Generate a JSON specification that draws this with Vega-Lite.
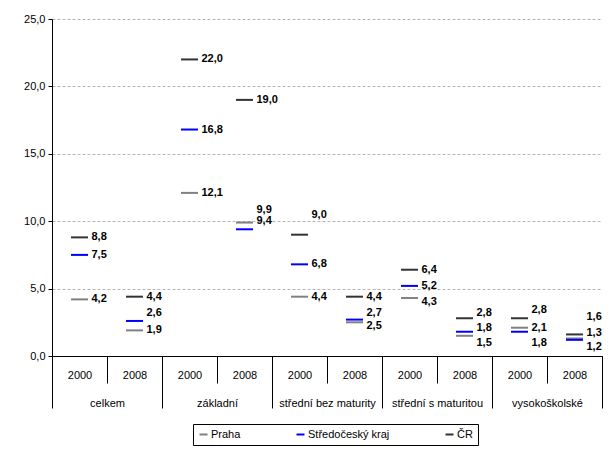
{
  "$schema": "https://vega.github.io/schema/vega-lite/v6.json",
  "width": 550,
  "height": 337,
  "autosize": {"type": "none"},
  "padding": {"left": 52, "top": 19, "right": 14, "bottom": 98},
  "background": "white",
  "config": {
    "font": "Liberation Sans",
    "view": {"stroke": null},
    "locale": {"number": {"decimal": ",", "thousands": " ", "grouping": [3], "currency": ["", " Kč"]}},
    "axis": {"labelFont": "Liberation Sans", "labelFontSize": 11, "labelColor": "black", "domainColor": "black", "tickColor": "black", "title": null}
  },
  "data": {
    "values": [
      {"g": "celkem", "y": "2000", "s": "Praha", "v": 4.2},
      {"g": "celkem", "y": "2000", "s": "Středočeský kraj", "v": 7.5},
      {"g": "celkem", "y": "2000", "s": "ČR", "v": 8.8},
      {"g": "celkem", "y": "2008", "s": "Praha", "v": 1.9},
      {"g": "celkem", "y": "2008", "s": "Středočeský kraj", "v": 2.6},
      {"g": "celkem", "y": "2008", "s": "ČR", "v": 4.4},
      {"g": "základní", "y": "2000", "s": "Praha", "v": 12.1},
      {"g": "základní", "y": "2000", "s": "Středočeský kraj", "v": 16.8},
      {"g": "základní", "y": "2000", "s": "ČR", "v": 22.0},
      {"g": "základní", "y": "2008", "s": "Praha", "v": 9.9},
      {"g": "základní", "y": "2008", "s": "Středočeský kraj", "v": 9.4},
      {"g": "základní", "y": "2008", "s": "ČR", "v": 19.0},
      {"g": "střední bez maturity", "y": "2000", "s": "Praha", "v": 4.4},
      {"g": "střední bez maturity", "y": "2000", "s": "Středočeský kraj", "v": 6.8},
      {"g": "střední bez maturity", "y": "2000", "s": "ČR", "v": 9.0},
      {"g": "střední bez maturity", "y": "2008", "s": "Praha", "v": 2.5},
      {"g": "střední bez maturity", "y": "2008", "s": "Středočeský kraj", "v": 2.7},
      {"g": "střední bez maturity", "y": "2008", "s": "ČR", "v": 4.4},
      {"g": "střední s maturitou", "y": "2000", "s": "Praha", "v": 4.3},
      {"g": "střední s maturitou", "y": "2000", "s": "Středočeský kraj", "v": 5.2},
      {"g": "střední s maturitou", "y": "2000", "s": "ČR", "v": 6.4},
      {"g": "střední s maturitou", "y": "2008", "s": "Praha", "v": 1.5},
      {"g": "střední s maturitou", "y": "2008", "s": "Středočeský kraj", "v": 1.8},
      {"g": "střední s maturitou", "y": "2008", "s": "ČR", "v": 2.8},
      {"g": "vysokoškolské", "y": "2000", "s": "Praha", "v": 2.1},
      {"g": "vysokoškolské", "y": "2000", "s": "Středočeský kraj", "v": 1.8},
      {"g": "vysokoškolské", "y": "2000", "s": "ČR", "v": 2.8},
      {"g": "vysokoškolské", "y": "2008", "s": "Praha", "v": 1.3},
      {"g": "vysokoškolské", "y": "2008", "s": "Středočeský kraj", "v": 1.2},
      {"g": "vysokoškolské", "y": "2008", "s": "ČR", "v": 1.6}
    ]
  },
  "transform": [{"calculate": "datum.g + '|' + datum.y", "as": "k"}],
  "encoding": {
    "y": {
      "field": "v",
      "type": "quantitative",
      "scale": {"domain": [0, 25], "nice": false},
      "axis": {
        "values": [0, 5, 10, 15, 20, 25],
        "format": ".1f",
        "tickSize": 4,
        "labelPadding": 3,
        "grid": true,
        "gridColor": "#b4b4b4",
        "gridDash": [3, 2],
        "domainColor": "black",
        "title": null
      }
    }
  },
  "layer": [
    {
      "mark": {"type": "tick", "size": 17, "thickness": 2, "opacity": 1},
      "encoding": {
        "x": {
          "field": "k",
          "type": "nominal",
          "scale": {
            "domain": ["celkem|2000", "celkem|2008", "základní|2000", "základní|2008", "střední bez maturity|2000", "střední bez maturity|2008", "střední s maturitou|2000", "střední s maturitou|2008", "vysokoškolské|2000", "vysokoškolské|2008"],
            "paddingInner": 0,
            "paddingOuter": 0
          },
          "axis": {
            "orient": "bottom",
            "tickBand": "extent",
            "tickSize": 27,
            "labelExpr": "isString(datum.label) && length(datum.label) > 0 ? split(datum.label, '|')[1] : ''",
            "labelAngle": 0,
            "labelBaseline": "middle",
            "labelPadding": -8,
            "labelOverlap": false,
            "grid": false,
            "title": null
          }
        },
        "color": {
          "field": "s",
          "type": "nominal",
          "scale": {"domain": ["Praha", "Středočeský kraj", "ČR"], "range": ["#808080", "#0000ff", "#333333"]},
          "legend": {
            "orient": "none",
            "legendX": 141,
            "legendY": 405,
            "direction": "horizontal",
            "title": null,
            "symbolType": "M-1,-0.25H1V0.25H-1Z",
            "symbolSize": 64,
            "symbolOpacity": 1,
            "symbolStrokeWidth": 0,
            "labelFont": "Liberation Sans",
            "labelFontSize": 11,
            "labelColor": "black",
            "labelOffset": 2,
            "strokeColor": "black",
            "padding": 5,
            "columnPadding": 54,
            "gridAlign": "none"
          }
        }
      }
    },
    {
      "mark": {
        "type": "text",
        "align": "left",
        "baseline": "middle",
        "dx": 12,
        "dy": {"expr": "({'celkem|2008|Středočeský kraj': -8, 'základní|2008|Praha': -13, 'základní|2008|Středočeský kraj': -8, 'střední bez maturity|2000|ČR': -20, 'střední bez maturity|2008|Středočeský kraj': -7, 'střední bez maturity|2008|Praha': 4, 'střední s maturitou|2000|Praha': 4, 'střední s maturitou|2008|ČR': -5, 'střední s maturitou|2008|Středočeský kraj': -4, 'střední s maturitou|2008|Praha': 7, 'vysokoškolské|2000|ČR': -8, 'vysokoškolské|2000|Středočeský kraj': 11, 'vysokoškolské|2008|ČR': -17, 'vysokoškolské|2008|Praha': -5, 'vysokoškolské|2008|Středočeský kraj': 7})[datum.g + '|' + datum.y + '|' + datum.s] || 0"},
        "fontWeight": "bold",
        "fontSize": 11,
        "font": "Liberation Sans",
        "color": "black"
      },
      "encoding": {
        "x": {
          "field": "k",
          "type": "nominal",
          "axis": {
            "orient": "bottom",
            "tickBand": "extent",
            "tickSize": 52,
            "domain": false,
            "labelExpr": "isString(datum.label) && indexof(datum.label, '|2000') >= 0 ? split(datum.label, '|')[0] : ''",
            "labelOffset": 27.5,
            "labelAngle": 0,
            "labelBaseline": "middle",
            "labelPadding": -5,
            "labelOverlap": false,
            "labelLimit": 200,
            "tickColor": {"condition": {"test": "isString(datum.value) && indexof(datum.value, '|2000') >= 0", "value": "transparent"}, "value": "black"},
            "grid": false,
            "title": null
          }
        },
        "text": {"field": "v", "type": "quantitative", "format": ".1f"}
      }
    }
  ],
  "resolve": {"axis": {"x": "independent"}}
}
